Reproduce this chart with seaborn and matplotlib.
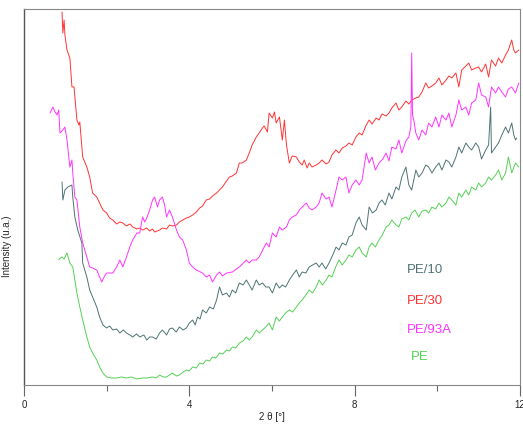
import pandas as pd
import matplotlib.pyplot as plt
import seaborn as sns
from matplotlib.ticker import MultipleLocator

# (2 theta [deg], intensity [u.a.])
pe30 = [(0.92, 373), (0.94, 352), (0.97, 365), (0.99, 350), (1.04, 335), (1.11, 327), (1.16, 298),
        (1.21, 298), (1.28, 265), (1.33, 260), (1.35, 263), (1.42, 228), (1.52, 218), (1.59, 208),
        (1.66, 192), (1.76, 188), (1.83, 182), (1.91, 175), (2.00, 172), (2.07, 167), (2.15, 165),
        (2.24, 161), (2.32, 163), (2.39, 162), (2.48, 159), (2.56, 161), (2.63, 158), (2.73, 156),
        (2.80, 157), (2.87, 155), (2.97, 157), (3.04, 154), (3.11, 156), (3.16, 153), (3.28, 155),
        (3.35, 157), (3.45, 156), (3.52, 160), (3.59, 159), (3.69, 160), (3.76, 163), (3.84, 165),
        (3.93, 167), (4.00, 168), (4.08, 170), (4.17, 173), (4.25, 177), (4.32, 179), (4.41, 185),
        (4.49, 186), (4.56, 189), (4.66, 192), (4.73, 195), (4.80, 198), (4.90, 204), (4.97, 208),
        (5.04, 209), (5.14, 212), (5.21, 222), (5.28, 222), (5.38, 225), (5.45, 232), (5.52, 240),
        (5.62, 248), (5.69, 252), (5.77, 257), (5.81, 259), (5.89, 253), (5.93, 272), (6.01, 267),
        (6.06, 273), (6.10, 262), (6.18, 268), (6.25, 245), (6.30, 265), (6.35, 240), (6.42, 222),
        (6.49, 229), (6.59, 228), (6.66, 223), (6.73, 220), (6.78, 225), (6.85, 217), (6.90, 222),
        (6.97, 218), (7.07, 220), (7.14, 222), (7.21, 225), (7.31, 221), (7.38, 223), (7.45, 230),
        (7.55, 235), (7.62, 232), (7.70, 237), (7.79, 239), (7.86, 242), (7.94, 240), (8.03, 248),
        (8.11, 252), (8.18, 250), (8.28, 260), (8.35, 265), (8.42, 261), (8.52, 267), (8.59, 265),
        (8.66, 271), (8.76, 269), (8.83, 272), (8.90, 277), (9.00, 282), (9.07, 275), (9.14, 278),
        (9.24, 284), (9.31, 281), (9.38, 285), (9.48, 287), (9.55, 288), (9.63, 293), (9.72, 302),
        (9.79, 297), (9.87, 299), (9.96, 302), (10.04, 307), (10.11, 300), (10.21, 305), (10.28, 309),
        (10.35, 307), (10.45, 312), (10.52, 298), (10.59, 315), (10.69, 319), (10.76, 322), (10.83, 315),
        (10.93, 317), (11.00, 318), (11.07, 313), (11.17, 321), (11.24, 308), (11.31, 325), (11.41, 319),
        (11.48, 327), (11.56, 322), (11.65, 330), (11.72, 335), (11.80, 345), (11.85, 335), (11.89, 332),
        (11.97, 335)]

pe93a = [(0.63, 272), (0.70, 278), (0.75, 273), (0.80, 270), (0.84, 275), (0.87, 252), (0.94, 255),
         (0.99, 258), (1.04, 245), (1.11, 218), (1.16, 225), (1.18, 212), (1.23, 188), (1.28, 185),
         (1.35, 158), (1.42, 142), (1.52, 128), (1.59, 118), (1.66, 117), (1.76, 115), (1.83, 108),
         (1.88, 103), (1.95, 109), (2.00, 112), (2.07, 112), (2.15, 112), (2.24, 118), (2.32, 125),
         (2.39, 118), (2.48, 128), (2.56, 138), (2.63, 145), (2.73, 152), (2.80, 152), (2.87, 168),
         (2.92, 163), (2.97, 167), (3.04, 175), (3.11, 185), (3.16, 188), (3.23, 178), (3.28, 185),
         (3.35, 188), (3.40, 180), (3.45, 168), (3.52, 175), (3.59, 168), (3.69, 155), (3.76, 148),
         (3.84, 145), (3.93, 135), (4.00, 122), (4.08, 118), (4.17, 115), (4.32, 112), (4.41, 108),
         (4.49, 110), (4.56, 103), (4.66, 110), (4.73, 113), (4.80, 109), (4.90, 112), (5.04, 113),
         (5.14, 116), (5.21, 118), (5.38, 125), (5.45, 122), (5.52, 125), (5.62, 125), (5.69, 128),
         (5.86, 142), (5.93, 138), (6.01, 152), (6.10, 148), (6.18, 158), (6.25, 155), (6.35, 158),
         (6.42, 165), (6.49, 168), (6.59, 170), (6.66, 175), (6.73, 178), (6.83, 182), (6.90, 177),
         (6.97, 175), (7.07, 178), (7.14, 182), (7.21, 192), (7.31, 186), (7.38, 188), (7.45, 178),
         (7.55, 195), (7.62, 208), (7.70, 205), (7.79, 208), (7.86, 192), (7.94, 200), (8.03, 205),
         (8.11, 200), (8.18, 205), (8.28, 232), (8.35, 222), (8.42, 228), (8.50, 215), (8.59, 222),
         (8.68, 226), (8.76, 232), (8.83, 224), (8.90, 238), (9.00, 236), (9.07, 245), (9.14, 232),
         (9.24, 244), (9.31, 248), (9.36, 258), (9.38, 332), (9.40, 270), (9.43, 265), (9.48, 252),
         (9.55, 245), (9.63, 255), (9.72, 250), (9.79, 262), (9.87, 258), (9.96, 268), (10.04, 258),
         (10.11, 270), (10.21, 265), (10.28, 272), (10.35, 258), (10.45, 270), (10.52, 285), (10.59, 275),
         (10.69, 278), (10.76, 270), (10.83, 282), (10.93, 285), (11.00, 302), (11.07, 290), (11.17, 288),
         (11.24, 278), (11.31, 298), (11.41, 292), (11.48, 298), (11.56, 293), (11.65, 288), (11.72, 296),
         (11.80, 298), (11.89, 292), (11.97, 302)]

pe10 = [(0.92, 203), (0.94, 185), (0.99, 195), (1.06, 198), (1.16, 200), (1.18, 188), (1.23, 168),
        (1.30, 155), (1.40, 142), (1.42, 122), (1.52, 108), (1.59, 95), (1.66, 88), (1.76, 78),
        (1.83, 68), (1.91, 60), (2.00, 57), (2.07, 59), (2.15, 55), (2.24, 56), (2.32, 52), (2.40, 55),
        (2.48, 52), (2.56, 50), (2.63, 48), (2.72, 51), (2.80, 48), (2.90, 50), (2.97, 45), (3.04, 48),
        (3.11, 48), (3.20, 46), (3.28, 52), (3.35, 55), (3.45, 50), (3.52, 56), (3.59, 57), (3.68, 53),
        (3.76, 58), (3.85, 55), (3.93, 57), (4.00, 62), (4.08, 65), (4.14, 60), (4.20, 68), (4.26, 66),
        (4.32, 75), (4.41, 72), (4.49, 78), (4.58, 76), (4.66, 85), (4.73, 98), (4.80, 90), (4.90, 92),
        (4.97, 88), (5.04, 95), (5.12, 92), (5.21, 102), (5.30, 100), (5.38, 105), (5.45, 100),
        (5.52, 95), (5.62, 105), (5.69, 100), (5.77, 102), (5.85, 98), (5.93, 98), (6.01, 92),
        (6.10, 102), (6.18, 97), (6.25, 100), (6.33, 98), (6.42, 105), (6.50, 110), (6.59, 115),
        (6.66, 108), (6.73, 113), (6.82, 112), (6.90, 118), (6.98, 120), (7.07, 122), (7.14, 118),
        (7.21, 122), (7.30, 116), (7.38, 122), (7.47, 130), (7.55, 138), (7.62, 135), (7.70, 142),
        (7.79, 140), (7.86, 148), (7.94, 150), (8.03, 162), (8.11, 168), (8.18, 160), (8.28, 155),
        (8.35, 178), (8.43, 172), (8.52, 175), (8.59, 182), (8.66, 185), (8.74, 180), (8.83, 192),
        (8.90, 186), (9.00, 198), (9.07, 195), (9.14, 208), (9.24, 218), (9.31, 200), (9.38, 195),
        (9.48, 215), (9.55, 208), (9.63, 212), (9.72, 220), (9.79, 218), (9.87, 212), (9.96, 218),
        (10.04, 222), (10.11, 215), (10.21, 225), (10.28, 223), (10.35, 218), (10.45, 228), (10.52, 238),
        (10.59, 232), (10.69, 242), (10.76, 238), (10.83, 235), (10.93, 242), (11.00, 238), (11.07, 226),
        (11.17, 235), (11.24, 240), (11.29, 278), (11.31, 232), (11.41, 238), (11.48, 242), (11.56, 250),
        (11.65, 258), (11.72, 252), (11.80, 262), (11.85, 250), (11.89, 245), (11.92, 247)]

pe = [(0.84, 125), (0.88, 127), (0.92, 128), (0.97, 126), (1.04, 132), (1.11, 122), (1.18, 118),
      (1.28, 92), (1.35, 78), (1.42, 65), (1.52, 48), (1.59, 38), (1.66, 32), (1.76, 25), (1.83, 18),
      (1.91, 12), (2.00, 8), (2.12, 7), (2.24, 7), (2.36, 8), (2.48, 7), (2.60, 8), (2.73, 6),
      (2.85, 7), (2.97, 7), (3.11, 8), (3.20, 7), (3.28, 10), (3.37, 8), (3.45, 8), (3.52, 10),
      (3.59, 12), (3.69, 9), (3.76, 10), (3.85, 13), (3.93, 15), (4.00, 14), (4.08, 18), (4.17, 17),
      (4.25, 22), (4.33, 21), (4.41, 25), (4.49, 24), (4.56, 28), (4.64, 27), (4.73, 32), (4.81, 31),
      (4.90, 35), (4.97, 34), (5.04, 38), (5.12, 37), (5.21, 42), (5.30, 44), (5.38, 48), (5.45, 45),
      (5.52, 48), (5.62, 55), (5.69, 52), (5.77, 55), (5.85, 58), (5.93, 62), (6.01, 55), (6.10, 68),
      (6.18, 64), (6.25, 68), (6.33, 72), (6.42, 75), (6.50, 73), (6.59, 78), (6.66, 82), (6.73, 85),
      (6.82, 90), (6.90, 95), (6.98, 92), (7.07, 98), (7.14, 105), (7.22, 100), (7.31, 105),
      (7.38, 110), (7.45, 108), (7.54, 118), (7.62, 125), (7.70, 120), (7.79, 125), (7.86, 130),
      (7.94, 128), (8.03, 135), (8.11, 138), (8.18, 132), (8.28, 128), (8.35, 138), (8.42, 142),
      (8.50, 138), (8.59, 145), (8.67, 150), (8.76, 158), (8.83, 160), (8.90, 165), (9.00, 160),
      (9.07, 158), (9.14, 166), (9.24, 168), (9.31, 165), (9.38, 172), (9.46, 175), (9.55, 168),
      (9.63, 174), (9.72, 175), (9.79, 172), (9.87, 178), (9.96, 176), (10.04, 182), (10.11, 178),
      (10.21, 182), (10.28, 188), (10.35, 185), (10.45, 180), (10.52, 192), (10.59, 188), (10.69, 195),
      (10.76, 190), (10.83, 198), (10.93, 195), (11.00, 202), (11.07, 198), (11.17, 202), (11.24, 208),
      (11.31, 205), (11.41, 210), (11.48, 215), (11.56, 205), (11.65, 212), (11.72, 228), (11.80, 212),
      (11.89, 222), (11.97, 218)]

series = {"PE/10": pe10, "PE/30": pe30, "PE/93A": pe93a, "PE": pe}
colores = {"PE/10": "#4f7373", "PE/30": "#ff3333", "PE/93A": "#ff33ff", "PE": "#55d155"}

filas = []
for nombre, puntos in series.items():
    for tt, inten in puntos:
        filas.append({"2theta": tt, "I": inten, "muestra": nombre})
df = pd.DataFrame(filas)

sns.set_style("white")
plt.rcParams["font.family"] = ["Liberation Sans", "DejaVu Sans"]

fig = plt.figure(figsize=(5.23, 4.24), dpi=100)
ax = fig.add_axes([24 / 523, 1 - 385 / 424, 496 / 523, 376 / 424])

sns.lineplot(data=df, x="2theta", y="I", hue="muestra", palette=colores,
             estimator=None, sort=False, linewidth=0.7, legend=False, ax=ax)

ax.set_xlim(0, 12)
ax.set_ylim(0, 376)
ax.set_yticks([])
ax.xaxis.set_major_locator(MultipleLocator(4))
ax.xaxis.set_minor_locator(MultipleLocator(2))
ax.tick_params(axis="x", which="major", direction="out", length=8, width=0.8,
               color="#666666", labelsize=7, pad=3, bottom=True)
ax.tick_params(axis="x", which="minor", direction="out", length=4, width=0.8,
               color="#666666", bottom=True)
for lado in ["top", "right", "bottom"]:
    ax.spines[lado].set_color("#888888")
    ax.spines[lado].set_linewidth(0.8)
ax.spines["left"].set_color("#555555")
ax.spines["left"].set_linewidth(1.0)

ax.set_xlabel("2 θ [°]", fontsize=7, labelpad=1)
ax.set_ylabel("Intensity (u.a.)", fontsize=7, labelpad=2)
ax.yaxis.set_label_coords(-0.025, 0.37)

etiquetas = [("PE/10", 0.772, 0.307), ("PE/30", 0.772, 0.224),
             ("PE/93A", 0.772, 0.147), ("PE", 0.780, 0.074)]
for nombre, xt, yt in etiquetas:
    ax.text(xt, yt, nombre, color=colores[nombre], fontsize=9.5,
            transform=ax.transAxes, va="center", ha="left")

fig.savefig("out.png", dpi=100)
